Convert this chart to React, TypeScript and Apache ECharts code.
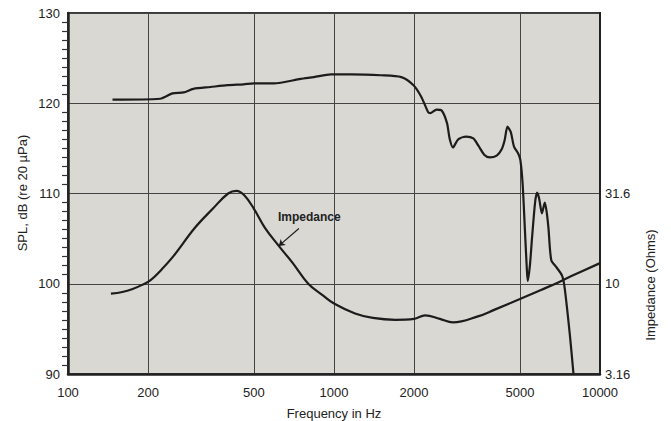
import React, { useEffect, useRef } from "react";
import * as echarts from "echarts";

// SPL response (frequency in Hz, dB re 20 µPa)
const splFreq = [147, 222, 247, 272, 296, 343, 398, 457, 500, 594, 750, 840, 975, 1160, 1500, 1790, 1990, 2130, 2260, 2300, 2430, 2540, 2660, 2720, 2800, 2930, 3140, 3340, 3490, 3670, 3850, 4090, 4270, 4380, 4490, 4620, 4750, 4930, 5020, 5120, 5220, 5300, 5350, 5450, 5550, 5700, 5800, 5900, 6050, 6200, 6300, 6400, 6560, 6870, 7200, 7360, 7700, 7950];
const splValues = [120.4, 120.5, 121.1, 121.2, 121.6, 121.8, 122.0, 122.1, 122.2, 122.2, 122.7, 122.9, 123.2, 123.2, 123.1, 122.9, 122.0, 120.7, 119.0, 118.9, 119.3, 119.2, 117.8, 116.1, 115.1, 116.0, 116.3, 116.1, 115.3, 114.3, 114.0, 114.2, 114.9, 115.9, 117.4, 116.8, 115.2, 114.4, 113.7, 111.0, 106.0, 102.0, 100.3, 102.0, 105.0, 109.0, 110.1, 109.5, 107.8, 109.0, 108.0, 106.2, 102.6, 101.8, 100.9, 99.6, 94.4, 90.0];

// Impedance (frequency in Hz, Ohms)
const impFreq = [145, 160, 175, 190, 205, 225, 250, 300, 350, 400, 430, 460, 500, 550, 620, 700, 800, 900, 1000, 1200, 1400, 1700, 2000, 2200, 2500, 2800, 3500, 4000, 5000, 6000, 7000, 8000, 10000];
const impOhms = [8.81, 9.0, 9.35, 9.85, 10.5, 12.0, 14.3, 20.4, 26.0, 31.6, 32.7, 30.9, 26.0, 20.4, 16.2, 13.0, 10.0, 8.71, 7.76, 6.84, 6.46, 6.31, 6.38, 6.68, 6.38, 6.10, 6.61, 7.16, 8.22, 9.23, 10.2, 11.2, 13.0];

const freqTicks = [100, 200, 500, 1000, 2000, 5000, 10000];
const splTicks = [90, 100, 110, 120, 130];
const impTicks = [3.16, 10, 31.6];

// annotation arrow (data space: Hz, Ohms)
const arrowFrom = [738, 20.2];
const arrowTo = [620, 16.2];

const FONT = "'Liberation Sans', Arial, Helvetica, sans-serif";
const INK = "#222";

export default function App() {
  const ref = useRef<HTMLDivElement>(null);
  useEffect(() => {
    if (!ref.current) return;
    const chart = echarts.init(ref.current, undefined, { renderer: "svg" });
    chart.setOption({
      animation: false,
      backgroundColor: "#ffffff",
      grid: {
        left: 68,
        top: 13,
        width: 532,
        height: 361,
        show: true,
        backgroundColor: "#d9d8d3",
        borderColor: "#3a3a3a",
        borderWidth: 2,
      },
      xAxis: {
        type: "log",
        logBase: 10,
        min: 100,
        max: 10000,
        axisLine: { show: true, lineStyle: { color: INK, width: 2.5 } },
        axisTick: { show: false, customValues: freqTicks },
        axisLabel: {
          customValues: freqTicks,
          color: INK,
          fontFamily: FONT,
          fontSize: 13,
          margin: 12,
          formatter: (v: number) => String(Math.round(v)),
        },
        splitLine: { show: true, lineStyle: { color: "#444", width: 1 } },
        minorTick: { show: false },
        minorSplitLine: { show: false },
      },
      yAxis: [
        {
          type: "value",
          min: 90,
          max: 130,
          interval: 10,
          position: "left",
          axisLine: { show: true, lineStyle: { color: INK, width: 2.5 } },
          axisTick: { show: false },
          minorTick: { show: true, splitNumber: 10, length: 6, lineStyle: { color: "#333", width: 1.2 } },
          axisLabel: {
            color: INK,
            fontFamily: FONT,
            fontSize: 13,
            margin: 8,
            customValues: splTicks,
          },
          splitLine: { show: true, lineStyle: { color: "#444", width: 1 } },
        },
        {
          type: "log",
          logBase: 10,
          min: 3.16,
          max: 316,
          position: "right",
          axisLine: { show: true, lineStyle: { color: INK, width: 2 } },
          axisTick: { show: false, customValues: impTicks },
          axisLabel: {
            customValues: impTicks,
            color: INK,
            fontFamily: FONT,
            fontSize: 13,
            margin: 5,
            formatter: (v: number) => String(v),
          },
          splitLine: { show: false },
        },
      ],
      graphic: [
        {
          type: "text",
          x: 22,
          y: 193,
          rotation: Math.PI / 2,
          style: {
            text: "SPL, dB (re 20 µPa)",
            fill: INK,
            font: `13px ${FONT}`,
            textAlign: "center",
            textVerticalAlign: "middle",
          },
        },
        {
          type: "text",
          x: 650,
          y: 285,
          rotation: Math.PI / 2,
          style: {
            text: "Impedance (Ohms)",
            fill: INK,
            font: `13px ${FONT}`,
            textAlign: "center",
            textVerticalAlign: "middle",
          },
        },
        {
          type: "text",
          x: 334,
          y: 413,
          style: {
            text: "Frequency in Hz",
            fill: INK,
            font: `13px ${FONT}`,
            textAlign: "center",
            textVerticalAlign: "middle",
          },
        },
        {
          type: "text",
          x: 278,
          y: 217,
          style: {
            text: "Impedance",
            fill: INK,
            font: `bold 12px ${FONT}`,
            textAlign: "left",
            textVerticalAlign: "middle",
          },
        },
      ],
      series: [
        {
          type: "line",
          name: "SPL",
          xAxisIndex: 0,
          yAxisIndex: 0,
          data: splFreq.map((f, i) => [f, splValues[i]]),
          symbol: "none",
          smooth: 0.25,
          lineStyle: { color: "#1c1c1c", width: 2.2 },
        },
        {
          type: "line",
          name: "Impedance",
          xAxisIndex: 0,
          yAxisIndex: 1,
          data: impFreq.map((f, i) => [f, impOhms[i]]),
          symbol: "none",
          smooth: 0.4,
          lineStyle: { color: "#1c1c1c", width: 2.2 },
          markLine: {
            silent: true,
            symbol: ["none", "arrow"],
            symbolSize: 6,
            label: { show: false },
            lineStyle: { color: "#1c1c1c", width: 1.2, type: "solid" },
            data: [[{ coord: arrowFrom }, { coord: arrowTo }]],
          },
        },
      ],
    });
    return () => chart.dispose();
  }, []);
  return (
    <div
      ref={ref}
      style={{ position: "fixed", left: 0, top: 0, width: 671, height: 421 }}
    />
  );
}
